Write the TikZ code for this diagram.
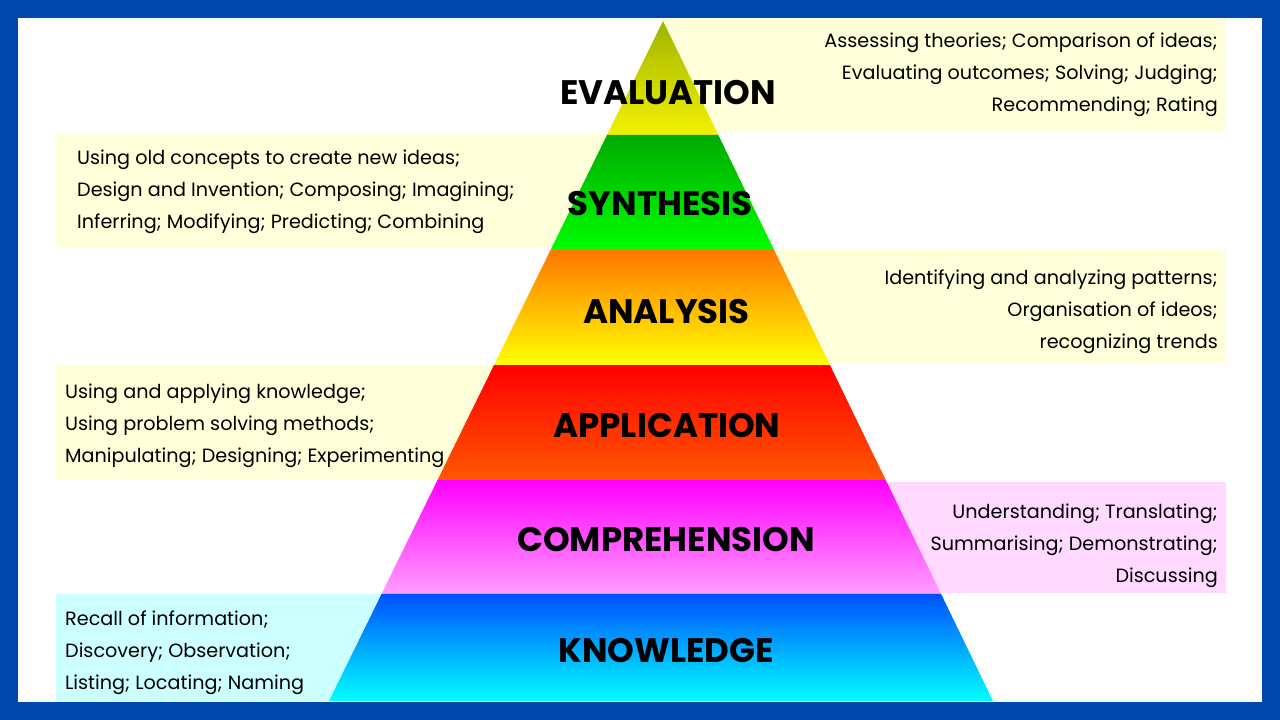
\documentclass[tikz,border=0pt]{standalone}
\usepackage{fontspec}
\setmainfont{Poppins}
\usetikzlibrary{calc}
\definecolor{frameblue}{HTML}{0048AA}
\definecolor{paleyellow}{HTML}{FFFFDA}
\definecolor{palepink}{HTML}{FFD9FF}
\definecolor{palecyan}{HTML}{CCFFFF}
\definecolor{evtop}{HTML}{A0B400}\definecolor{evmid}{HTML}{CCD600}\definecolor{evbot}{HTML}{F2F200}
\definecolor{sytop}{HTML}{00AA00}\definecolor{symid}{HTML}{00EE00}\definecolor{sybot}{HTML}{00FF00}
\definecolor{antop}{HTML}{FF7700}\definecolor{anmid}{HTML}{FFCC00}\definecolor{anbot}{HTML}{FFFF00}
\definecolor{aptop}{HTML}{FF0000}\definecolor{apmid}{HTML}{FF0A00}\definecolor{apbot}{HTML}{FF5800}
\definecolor{cotop}{HTML}{FF00FF}\definecolor{comid}{HTML}{FF30FF}\definecolor{cobot}{HTML}{FF9EFF}
\definecolor{kntop}{HTML}{0050FF}\definecolor{knmid}{HTML}{00B0FF}\definecolor{knbot}{HTML}{00FFFF}
\tikzset{
  level/.style={font=\fontsize{34}{34}\selectfont\bfseries, inner sep=0pt},
  notes/.style={font=\fontsize{19.2}{32}\selectfont, inner sep=0pt},
}
\begin{document}
\begin{tikzpicture}[x=1pt,y=-1pt]
    \fill[frameblue] (0,0) rectangle (1280,720);
    \fill[white] (18,18) rectangle (1262,702);
    % pale boxes behind the pyramid
    \fill[paleyellow] (663,18) rectangle (1226,132);
    \fill[paleyellow] (56,133) rectangle (640,248);
    \fill[paleyellow] (690,249) rectangle (1226,364);
    \fill[paleyellow] (56,365) rectangle (620,480);
    \fill[palepink] (720,482) rectangle (1226,593);
    \fill[palecyan] (56,594) rectangle (620,701);
    % pyramid
    \coordinate (apex) at (663,21);
    \coordinate (bl) at (329,701);
    \coordinate (br) at (993,701);
    \foreach \ta/\tb/\lay in {0/0.1676/ev, 0.1676/0.3368/sy, 0.3368/0.5059/an,
                              0.5059/0.675/ap, 0.675/0.8426/co, 0.8426/1/kn}{
        \shade[top color=\lay top, middle color=\lay mid, bottom color=\lay bot]
            ($(apex)!\ta!(bl)$) -- ($(apex)!\tb!(bl)$) -- ($(apex)!\tb!(br)$) -- ($(apex)!\ta!(br)$) -- cycle;
    }
    % level names
    \node[level] (evaluation) at (668,92.5) {EVALUATION};
    \node[level] (synthesis) at (660,203.5) {SYNTHESIS};
    \node[level] (analysis) at (666.5,312) {ANALYSIS};
    \node[level] (application) at (667,426) {APPLICATION};
    \node[level] (comprehension) at (666,539.5) {COMPREHENSION};
    \node[level] (knowledge) at (666,650.5) {KNOWLEDGE};
    % descriptions
    \node[notes, align=right, anchor=east] (evalnotes) at (1218,74.5)
        {Assessing theories; Comparison of ideas;\\Evaluating outcomes; Solving; Judging;\\Recommending; Rating};
    \node[notes, align=left, anchor=west] (synnotes) at (77,192)
        {Using old concepts to create new ideas;\\Design and Invention; Composing; Imagining;\\Inferring; Modifying; Predicting; Combining};
    \node[notes, align=right, anchor=east] (annotes) at (1218,311.5)
        {Identifying and analyzing patterns;\\Organisation of ideos;\\recognizing trends};
    \node[notes, align=left, anchor=west] (appnotes) at (65,426)
        {Using and applying knowledge;\\Using problem solving methods;\\Manipulating; Designing; Experimenting};
    \node[notes, align=right, anchor=east] (compnotes) at (1218,546)
        {Understanding; Translating;\\Summarising; Demonstrating;\\Discussing};
    \node[notes, align=left, anchor=west] (knownotes) at (65,652.5)
        {Recall of information;\\Discovery; Observation;\\Listing; Locating; Naming};
\end{tikzpicture}
\end{document}
